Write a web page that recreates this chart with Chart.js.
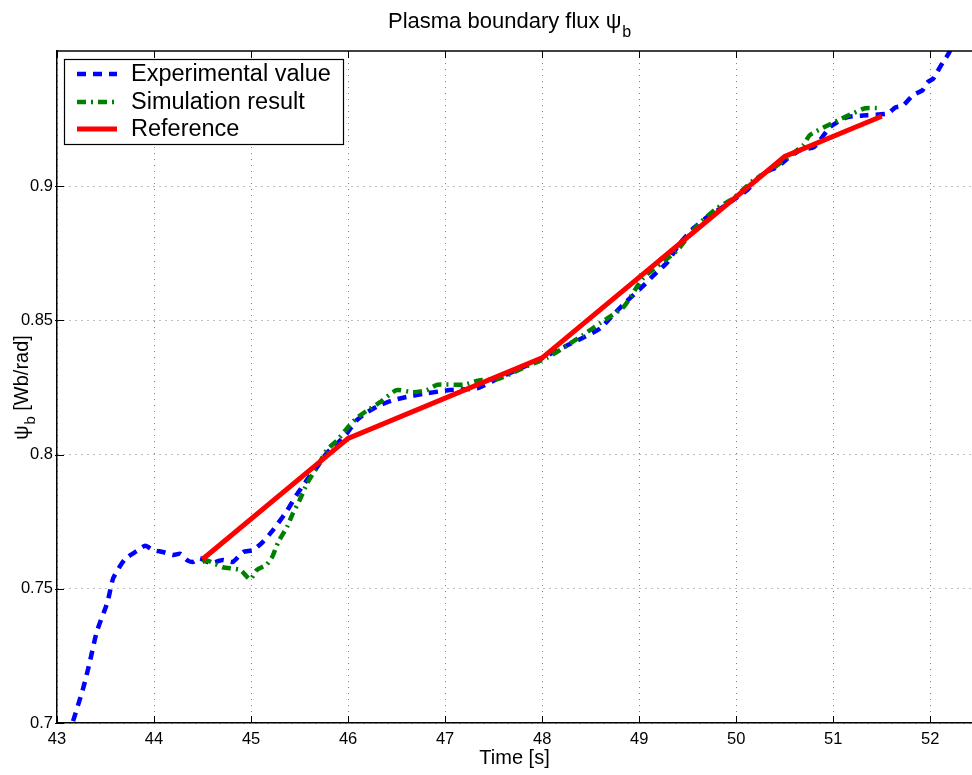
<!DOCTYPE html>
<html lang="en">
<head>
<meta charset="UTF-8">
<title>Plasma boundary flux</title>
<script src="https://cdn.jsdelivr.net/npm/chart.js@4.4.1/dist/chart.umd.min.js"></script>
<style>
    html, body { margin: 0; padding: 0; background: #fff; }
    .chart-box { position: relative; width: 972px; height: 775px; }
</style>
</head>
<body>
<div class="chart-box"><canvas id="fluxChart"></canvas></div>
<script>
// experimental value (blue dashed)
const expTime = [43.12, 43.16, 43.27, 43.34, 43.41, 43.52, 43.58, 43.70, 43.82, 43.91, 43.99, 44.09, 44.20, 44.27, 44.34, 44.40, 44.47, 44.58, 44.71, 44.81, 44.92, 45.02, 45.12, 45.23, 45.28, 45.37, 45.47, 45.54, 45.61, 45.68, 45.78, 45.89, 45.99, 46.09, 46.20, 46.33, 46.47, 46.60, 46.81, 47.05, 47.33, 47.57, 47.77, 48.00, 48.26, 48.42, 48.60, 48.73, 48.86, 49.03, 49.15, 49.29, 49.42, 49.56, 49.70, 49.84, 50.01, 50.11, 50.28, 50.42, 50.53, 50.66, 50.80, 50.97, 51.14, 51.35, 51.56, 51.64, 51.72, 51.82, 51.92, 51.97, 52.03, 52.07, 52.13, 52.19, 52.26];
const expFlux = [0.695, 0.700, 0.713, 0.723, 0.734, 0.745, 0.754, 0.761, 0.764, 0.766, 0.7644, 0.7637, 0.7626, 0.763, 0.7607, 0.760, 0.7614, 0.7596, 0.7607, 0.760, 0.7637, 0.7644, 0.7674, 0.772, 0.7745, 0.779, 0.785, 0.7886, 0.7923, 0.7953, 0.8005, 0.8042, 0.808, 0.8128, 0.8158, 0.8184, 0.8203, 0.8214, 0.8228, 0.824, 0.8247, 0.8288, 0.832, 0.8359, 0.8407, 0.8435, 0.847, 0.852, 0.8567, 0.8624, 0.8668, 0.8716, 0.8787, 0.8843, 0.8884, 0.8917, 0.8958, 0.8984, 0.9048, 0.907, 0.9103, 0.9134, 0.9145, 0.922, 0.9256, 0.9264, 0.927, 0.9293, 0.930, 0.9338, 0.9357, 0.9386, 0.940, 0.9424, 0.9461, 0.9494, 0.955];

// simulation result (green dash-dot)
const simTime = [44.50, 44.55, 44.71, 44.89, 44.99, 45.06, 45.16, 45.22, 45.28, 45.37, 45.43, 45.50, 45.58, 45.68, 45.78, 45.89, 45.99, 46.09, 46.20, 46.33, 46.50, 46.67, 46.81, 46.92, 47.19, 47.36, 47.53, 47.67, 47.85, 48.05, 48.26, 48.42, 48.60, 48.84, 49.04, 49.39, 49.60, 49.80, 49.97, 50.18, 50.38, 50.69, 50.76, 51.05, 51.20, 51.33, 51.48];
const simFlux = [0.760, 0.7605, 0.758, 0.757, 0.7535, 0.757, 0.759, 0.762, 0.7674, 0.773, 0.778, 0.783, 0.7894, 0.7953, 0.8016, 0.8054, 0.8098, 0.8136, 0.8165, 0.8195, 0.824, 0.8232, 0.824, 0.826, 0.826, 0.8277, 0.828, 0.830, 0.833, 0.836, 0.8407, 0.8445, 0.849, 0.855, 0.8657, 0.876, 0.8854, 0.8917, 0.8954, 0.9022, 0.9066, 0.9152, 0.919, 0.9245, 0.927, 0.929, 0.929];

// reference (red solid)
const refTime = [44.5, 46.0, 48.0, 50.5, 51.5];
const refFlux = [0.761, 0.806, 0.836, 0.911, 0.926];

const xTicks = [43, 44, 45, 46, 47, 48, 49, 50, 51, 52];
const yTicks = [0.7, 0.75, 0.8, 0.85, 0.9];

const FONT = "'Liberation Sans', Arial, Helvetica, sans-serif";
const toPoints = (ts, vs) => ts.map((t, i) => ({ x: t, y: vs[i] }));

// legend box, inner ticks, top border, title and axis titles (with subscripts)
const decorations = {
    id: 'decorations',
    afterDraw(chart) {
        const { ctx, chartArea: a, scales: { x, y } } = chart;
        ctx.save();

        ctx.strokeStyle = '#000';
        ctx.lineWidth = 1.5;
        ctx.beginPath();
        ctx.moveTo(a.left, a.top);
        ctx.lineTo(a.right, a.top);
        ctx.stroke();

        ctx.lineWidth = 1;
        ctx.beginPath();
        xTicks.forEach(t => {
            const px = Math.round(x.getPixelForValue(t)) + 0.5;
            ctx.moveTo(px, a.bottom); ctx.lineTo(px, a.bottom - 7);
            ctx.moveTo(px, a.top); ctx.lineTo(px, a.top + 7);
        });
        yTicks.forEach(v => {
            const py = Math.round(y.getPixelForValue(v)) + 0.5;
            ctx.moveTo(a.left - 2, py); ctx.lineTo(a.left + 7, py);
        });
        ctx.stroke();

        // legend
        const bx = 64.5, by = 59.5, bw = 279, bh = 85;
        ctx.fillStyle = '#fff';
        ctx.fillRect(bx, by, bw, bh);
        ctx.strokeStyle = '#000';
        ctx.lineWidth = 1.2;
        ctx.strokeRect(bx, by, bw, bh);
        const rows = [74, 102, 129];
        chart.data.datasets.forEach((ds, i) => {
            const ly = rows[i];
            ctx.beginPath();
            ctx.setLineDash(ds.borderDash || []);
            ctx.strokeStyle = ds.borderColor;
            ctx.lineWidth = ds.borderWidth;
            ctx.moveTo(77, ly);
            ctx.lineTo(117, ly);
            ctx.stroke();
            ctx.setLineDash([]);
            ctx.fillStyle = '#000';
            ctx.font = '23.5px ' + FONT;
            ctx.textAlign = 'left';
            ctx.textBaseline = 'middle';
            ctx.fillText(ds.label, 131, ly + 1);
        });

        // title
        ctx.fillStyle = '#000';
        ctx.textBaseline = 'alphabetic';
        ctx.textAlign = 'left';
        ctx.font = '22px ' + FONT;
        const main = 'Plasma boundary flux \u03c8';
        const w1 = ctx.measureText(main).width;
        const tx = 388;
        ctx.fillText(main, tx, 28);
        ctx.font = '16px ' + FONT;
        ctx.fillText('b', tx + w1 + 1, 37);

        // x axis title
        ctx.font = '20px ' + FONT;
        ctx.textAlign = 'center';
        ctx.fillText('Time [s]', (a.left + a.right) / 2, 764);

        // y axis title
        ctx.translate(28, 388);
        ctx.rotate(-Math.PI / 2);
        ctx.textAlign = 'left';
        ctx.font = '20px ' + FONT;
        const p1 = '\u03c8';
        const p3 = ' [Wb/rad]';
        const wp1 = ctx.measureText(p1).width;
        const wp3 = ctx.measureText(p3).width;
        ctx.font = '15px ' + FONT;
        const wp2 = ctx.measureText('b').width;
        const sx = -(wp1 + wp2 + wp3) / 2;
        ctx.font = '20px ' + FONT;
        ctx.fillText(p1, sx, 0);
        ctx.font = '15px ' + FONT;
        ctx.fillText('b', sx + wp1 + 1, 7);
        ctx.font = '20px ' + FONT;
        ctx.fillText(p3, sx + wp1 + wp2 + 1, 0);

        ctx.restore();
    }
};

new Chart(document.getElementById('fluxChart'), {
    type: 'line',
    data: {
        datasets: [{
            label: 'Experimental value',
            data: toPoints(expTime, expFlux),
            borderColor: '#0000ff',
            borderWidth: 4.5,
            borderDash: [9, 7],
            tension: 0.2,
            order: 3
        }, {
            label: 'Simulation result',
            data: toPoints(simTime, simFlux),
            borderColor: '#008000',
            borderWidth: 4.5,
            borderDash: [9, 5, 2, 5],
            tension: 0.2,
            order: 2
        }, {
            label: 'Reference',
            data: toPoints(refTime, refFlux),
            borderColor: '#ff0000',
            borderWidth: 5,
            tension: 0,
            order: 1
        }]
    },
    options: {
        responsive: true,
        maintainAspectRatio: false,
        animation: false,
        layout: { padding: { top: 51, right: 0, bottom: 0, left: 0 } },
        elements: { point: { radius: 0 } },
        plugins: {
            legend: { display: false },
            tooltip: { enabled: false }
        },
        scales: {
            x: {
                type: 'linear',
                min: 43,
                max: 52.43,
                afterBuildTicks: s => { s.ticks = xTicks.map(v => ({ value: v })); },
                afterFit: s => { s.height = 52; },
                ticks: {
                    color: '#000',
                    font: { family: FONT, size: 16.5 },
                    padding: 7,
                    maxRotation: 0,
                    callback: v => String(v)
                },
                grid: { color: '#808080', lineWidth: 1, drawTicks: false },
                border: { display: true, color: '#000', width: 1.5, dash: [1, 5] }
            },
            y: {
                type: 'linear',
                min: 0.7,
                max: 0.9503,
                afterBuildTicks: s => { s.ticks = yTicks.map(v => ({ value: v })); },
                afterFit: s => { s.width = 57; },
                ticks: {
                    color: '#000',
                    font: { family: FONT, size: 16.5 },
                    padding: 4,
                    callback: v => String(v)
                },
                grid: { color: '#808080', lineWidth: 1, drawTicks: false },
                border: { display: true, color: '#000', width: 1.5, dash: [1, 5] }
            }
        }
    },
    plugins: [decorations]
});
</script>
</body>
</html>
